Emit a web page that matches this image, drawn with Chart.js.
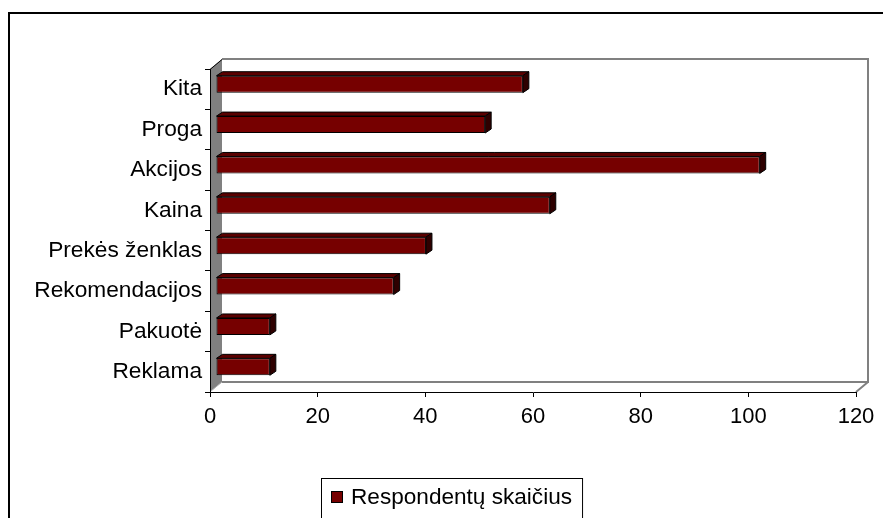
<!DOCTYPE html>
<html>
<head>
<meta charset="utf-8">
<script src="https://cdn.jsdelivr.net/npm/chart.js@4.4.1/dist/chart.umd.min.js"></script>
<style>
  html, body { margin: 0; padding: 0; background: #fff; }
  canvas { display: block; }
</style>
</head>
<body>
<canvas id="chart" width="883" height="518"></canvas>
<script>
// Survey answers: how many respondents named each purchase reason
const categories = ['Kita', 'Proga', 'Akcijos', 'Kaina', 'Prekės ženklas', 'Rekomendacijos', 'Pakuotė', 'Reklama'];
const respondents = [57, 50, 101, 62, 39, 33, 10, 10];
const xTickValues = [0, 20, 40, 60, 80, 100, 120];
const seriesName = 'Respondentų skaičius';

const FONT = "'Liberation Sans', Arial, sans-serif";
const BOX_DEPTH = { dx: 12, dy: -10 };   // depth of the 3-D plot box
const BAR_SHIFT = { dx: 6, dy: -5 };     // bars sit halfway into the box
const BAR_DEPTH = { dx: 6, dy: -4 };     // visible thickness of each bar

Chart.defaults.font.family = FONT;
Chart.defaults.color = '#000';

// Walls and floor of the 3-D box, drawn behind the axes and bars
const boxPlugin = {
  id: 'box3d',
  beforeDraw(chart) {
    const { ctx, chartArea: a } = chart;
    const { dx, dy } = BOX_DEPTH;
    ctx.save();
    // left wall
    ctx.beginPath();
    ctx.moveTo(a.left, a.top);
    ctx.lineTo(a.left + dx, a.top + dy);
    ctx.lineTo(a.left + dx, a.bottom + dy);
    ctx.lineTo(a.left, a.bottom);
    ctx.closePath();
    ctx.fillStyle = '#808080';
    ctx.fill();
    ctx.strokeStyle = '#000';
    ctx.lineWidth = 1;
    ctx.beginPath();
    ctx.moveTo(a.left, a.top + 0.5);
    ctx.lineTo(a.left + dx, a.top + dy + 0.5);
    ctx.stroke();
    ctx.strokeStyle = '#b0b0b0';
    ctx.beginPath();
    ctx.moveTo(a.left + 1, a.bottom - 1);
    ctx.lineTo(a.left + dx, a.bottom + dy);
    ctx.stroke();
    // back wall and floor outline
    ctx.strokeStyle = '#808080';
    ctx.lineWidth = 2;
    ctx.beginPath();
    ctx.moveTo(a.left + dx, a.top + dy);
    ctx.lineTo(a.right + dx, a.top + dy);
    ctx.lineTo(a.right + dx, a.bottom + dy);
    ctx.lineTo(a.left + dx, a.bottom + dy);
    ctx.moveTo(a.right + dx, a.bottom + dy);
    ctx.lineTo(a.right, a.bottom);
    ctx.stroke();
    ctx.restore();
  },
  beforeDatasetsDraw(chart) {
    chart.ctx.save();
    chart.ctx.translate(BAR_SHIFT.dx, BAR_SHIFT.dy);
  },
  afterDatasetsDraw(chart) {
    const ctx = chart.ctx;
    const { dx, dy } = BAR_DEPTH;
    chart.getDatasetMeta(0).data.forEach(bar => {
      const p = bar.getProps(['x', 'y', 'base', 'height'], true);
      const top = p.y - p.height / 2, bottom = p.y + p.height / 2;
      ctx.lineWidth = 1;
      ctx.strokeStyle = '#000';
      // top face
      ctx.beginPath();
      ctx.moveTo(p.base, top);
      ctx.lineTo(p.x, top);
      ctx.lineTo(p.x + dx, top + dy);
      ctx.lineTo(p.base + dx, top + dy);
      ctx.closePath();
      ctx.fillStyle = '#5a0000';
      ctx.fill();
      ctx.stroke();
      // end face
      ctx.beginPath();
      ctx.moveTo(p.x, top);
      ctx.lineTo(p.x + dx, top + dy);
      ctx.lineTo(p.x + dx, bottom + dy);
      ctx.lineTo(p.x, bottom);
      ctx.closePath();
      ctx.fillStyle = '#2e0000';
      ctx.fill();
      ctx.stroke();
    });
    ctx.restore();
  }
};

// Framed legend and outer chart border
const framePlugin = {
  id: 'frame',
  afterDraw(chart) {
    const ctx = chart.ctx;
    const ds = chart.data.datasets[0];
    ctx.save();
    ctx.strokeStyle = '#000';
    ctx.lineWidth = 2;
    ctx.beginPath();
    ctx.moveTo(9, 530);
    ctx.lineTo(9, 13);
    ctx.lineTo(900, 13);
    ctx.stroke();

    ctx.font = '22.6px ' + FONT;
    const tw = ctx.measureText(ds.label).width;
    const boxL = 321, boxT = 478, boxH = 40;
    const boxW = 10 + 12 + 8 + tw + 10;
    ctx.fillStyle = '#fff';
    ctx.fillRect(boxL, boxT, boxW, boxH);
    ctx.lineWidth = 1;
    ctx.strokeRect(boxL + 0.5, boxT + 0.5, boxW, boxH);
    ctx.fillStyle = ds.backgroundColor;
    ctx.fillRect(boxL + 10.5, boxT + 13.5, 11, 11);
    ctx.strokeRect(boxL + 10.5, boxT + 13.5, 11, 11);
    ctx.fillStyle = '#000';
    ctx.textBaseline = 'middle';
    ctx.fillText(ds.label, boxL + 30, boxT + 20);
    ctx.restore();
  }
};

new Chart(document.getElementById('chart'), {
  type: 'bar',
  data: {
    labels: categories,
    datasets: [{
      label: seriesName,
      data: respondents,
      backgroundColor: '#760000',
      borderColor: '#000',
      borderWidth: 1,
      borderSkipped: false,
      categoryPercentage: 1,
      barPercentage: 0.42,
      clip: false
    }]
  },
  options: {
    indexAxis: 'y',
    responsive: false,
    animation: false,
    events: [],
    layout: { padding: { left: 10, right: 27, top: 69, bottom: 86 } },
    plugins: { legend: { display: false }, tooltip: { enabled: false } },
    scales: {
      x: {
        min: 0, max: 120,
        afterBuildTicks(scale) { scale.ticks = xTickValues.map(v => ({ value: v })); },
        afterFit(scale) { scale.height = 40; },
        grid: { drawOnChartArea: false, drawTicks: true, tickLength: 5, color: '#000' },
        border: { display: true, color: '#000', width: 1 },
        ticks: { font: { size: 22 }, color: '#000', padding: 7, maxRotation: 0 }
      },
      y: {
        offset: true,
        afterFit(scale) { scale.width = 200; },
        grid: { offset: true, drawOnChartArea: false, drawTicks: true, tickLength: 5, color: '#000' },
        border: { display: true, color: '#000', width: 1 },
        ticks: { font: { size: 22.7 }, color: '#000', padding: 3 }
      }
    }
  },
  plugins: [boxPlugin, framePlugin]
});
</script>
</body>
</html>
